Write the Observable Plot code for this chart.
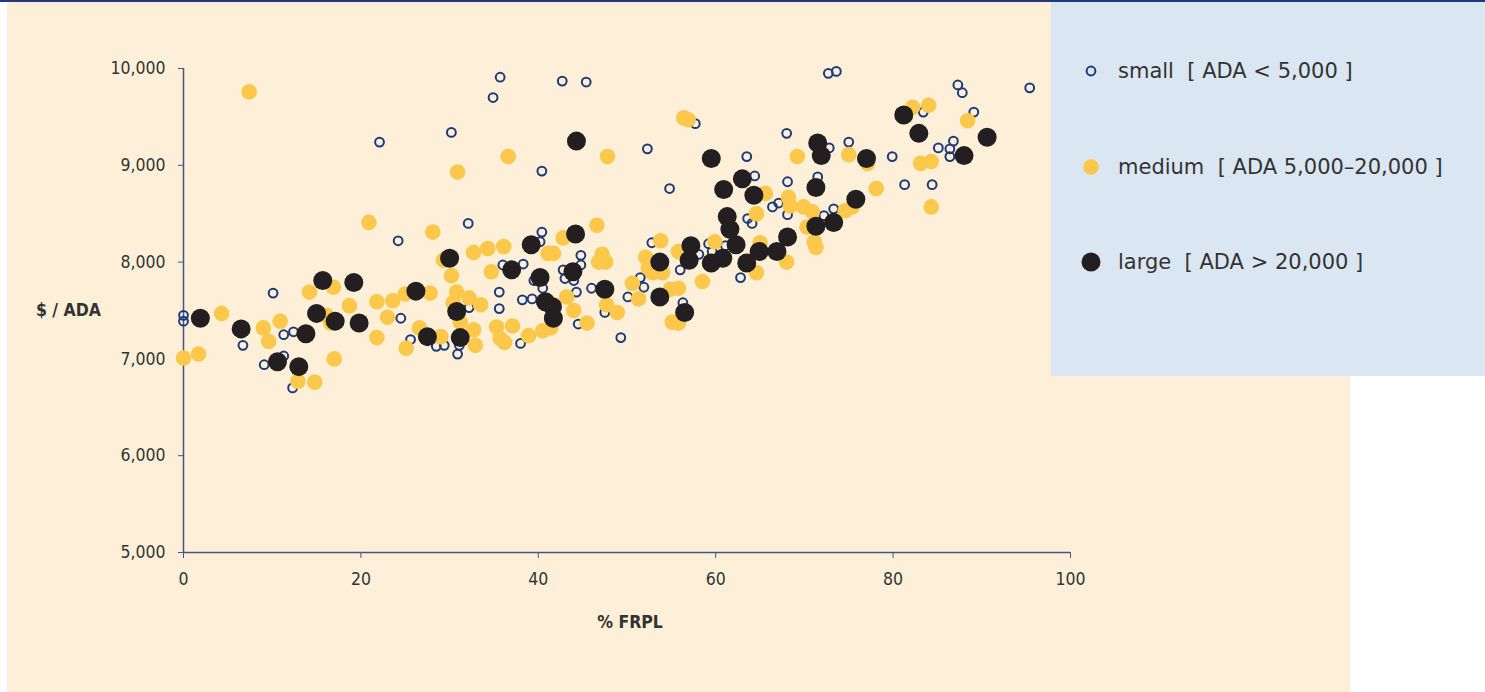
<!DOCTYPE html>
<html><head><meta charset="utf-8">
<script src="https://cdn.jsdelivr.net/npm/d3@7"></script>
<script src="https://cdn.jsdelivr.net/npm/@observablehq/plot@0.6"></script>
<style>
body{margin:0;background:#fff;}
#wrap{position:relative;width:1485px;height:692px;overflow:hidden;font-family:"DejaVu Sans Condensed","DejaVu Sans",sans-serif;font-stretch:condensed;color:#333;}
#topline{position:absolute;left:0;top:0;width:1485px;height:2px;background:#1f3a7a;}
#cream{position:absolute;left:7px;top:2px;width:1343px;height:690px;background:#FEF0D8;}
#blue{position:absolute;left:1051px;top:2px;width:434px;height:374px;background:#DAE6F1;}
#chart{position:absolute;left:0;top:0;}
.leg{position:absolute;left:1080px;height:26px;display:flex;align-items:center;font-family:"DejaVu Sans",sans-serif;font-stretch:normal;font-size:21px;white-space:pre;color:#333;}
.leg svg{margin-right:16px;}
.atitle{position:absolute;font-weight:bold;font-size:17.5px;color:#333;white-space:pre;line-height:20px;}
</style></head>
<body>
<div id="wrap">
  <div id="topline"></div>
  <div id="cream"></div>
  <div id="blue"></div>
  <div id="chart"></div>
  <div class="atitle" style="right:1384px;top:300px;">$ / ADA</div>
  <div class="atitle" style="left:530px;width:200px;text-align:center;top:612px;">% FRPL</div>
  <div id="legend"></div>
</div>
<script>
// % FRPL (x) and $/ADA (y) for each district size group
const small = [[0.0,7450],[0.0,7390],[6.7,7140],[10.1,7680],[11.3,7250],[12.4,7280],[9.1,6940],[11.3,7030],[12.3,6700],[22.1,9240],[30.2,9340],[24.2,8220],[32.1,8400],[35.7,9910],[34.9,9700],[42.7,9870],[45.4,9860],[40.4,8940],[52.3,9170],[54.8,8760],[57.7,9430],[40.4,8310],[40.2,8210],[36.0,7970],[38.3,7980],[35.6,7690],[35.6,7520],[38.2,7610],[39.3,7620],[39.5,7810],[40.5,7730],[42.8,7920],[43.0,7830],[44.0,7810],[44.8,8070],[44.8,7970],[44.3,7690],[46.0,7730],[47.5,7480],[44.5,7360],[38.0,7160],[49.3,7220],[50.1,7640],[51.5,7840],[51.9,7740],[52.8,8200],[56.0,7920],[56.3,7580],[24.5,7420],[25.6,7200],[28.5,7130],[29.4,7140],[30.9,7050],[31.1,7140],[32.2,7530],[58.1,8080],[59.2,8190],[59.6,8110],[61.1,8170],[62.8,7840],[72.7,9950],[73.6,9970],[87.3,9830],[87.8,9750],[95.4,9800],[89.1,9550],[83.4,9550],[68.0,9330],[63.5,9090],[72.8,9180],[75.0,9240],[79.9,9090],[85.1,9180],[86.8,9250],[86.4,9170],[86.4,9090],[81.3,8800],[84.4,8800],[64.4,8890],[68.1,8830],[71.5,8880],[66.4,8570],[67.1,8610],[68.1,8490],[72.2,8480],[73.3,8550],[63.6,8450],[64.1,8400]];
const medium = [[0.0,7010],[1.7,7050],[4.3,7470],[7.4,9760],[9.0,7320],[9.6,7180],[10.9,7390],[12.9,6770],[14.8,6760],[14.2,7690],[16.9,7740],[17.0,7000],[16.1,7450],[16.6,7370],[18.7,7550],[20.9,8410],[21.8,7590],[21.8,7220],[23.0,7430],[23.6,7600],[25.0,7670],[25.1,7110],[26.6,7320],[27.8,7680],[28.1,8310],[29.0,7230],[29.3,8020],[30.2,7860],[30.9,8930],[30.8,7690],[30.4,7580],[31.2,7380],[32.2,7630],[32.7,8100],[33.5,7560],[32.7,7300],[32.9,7140],[34.3,8140],[34.7,7900],[35.3,7330],[35.7,7210],[36.1,8160],[36.6,9090],[37.1,7340],[38.9,7240],[40.5,7290],[41.4,7320],[41.1,8090],[41.7,8090],[42.8,8250],[43.2,7640],[44.0,7500],[45.5,7370],[46.6,8380],[47.2,8080],[46.8,8000],[47.6,8000],[47.8,9090],[47.7,7560],[48.9,7480],[50.6,7780],[51.3,7620],[52.1,8050],[52.4,7940],[52.9,7890],[53.8,8220],[54.9,7720],[55.8,7730],[55.1,7380],[55.8,7370],[55.8,8110],[56.4,9490],[56.9,9470],[58.5,7800],[59.9,8210],[64.6,7890],[65.0,8200],[64.6,8500],[65.6,8710],[68.0,8000],[68.2,8670],[68.4,8580],[69.2,9090],[69.9,8570],[70.9,8520],[70.3,8360],[71.1,8210],[71.3,8150],[74.6,8530],[75.4,8570],[75.0,9110],[77.1,9020],[78.1,8760],[82.2,9600],[84.0,9620],[83.1,9020],[84.3,9040],[84.3,8570],[88.4,9460],[36.2,7170],[54.0,7890]];
const large = [[1.9,7420],[6.5,7310],[10.6,6970],[13.0,6920],[13.8,7260],[15.0,7470],[15.7,7810],[17.1,7390],[19.2,7790],[19.8,7370],[26.2,7700],[27.5,7230],[30.0,8040],[30.8,7490],[31.2,7220],[37.0,7920],[39.2,8180],[40.2,7840],[40.8,7590],[41.6,7540],[41.7,7420],[43.9,7900],[44.2,8290],[44.3,9250],[47.5,7720],[53.7,8000],[53.7,7640],[56.5,7480],[57.0,8020],[57.2,8170],[59.5,9070],[59.5,7990],[60.8,8040],[60.9,8750],[61.3,8470],[61.6,8340],[62.3,8180],[63.0,8860],[63.5,7990],[64.3,8690],[64.9,8110],[66.9,8110],[68.1,8260],[71.3,8770],[71.3,8370],[71.5,9230],[71.9,9100],[73.3,8410],[75.8,8650],[77.0,9070],[81.2,9520],[82.9,9330],[88.0,9100],[90.6,9290]];
const xTicks = [0,20,40,60,80,100];
const yTicks = [5000,6000,7000,8000,9000,10000];
const legendLabels = ["small  [ ADA < 5,000 ]","medium  [ ADA 5,000\u201320,000 ]","large  [ ADA > 20,000 ]"];

const NAVY = "#1f3a7a", YELLOW = "#FBC84B", BLACK = "#231F20", AXIS = "#45558a";
const toObj = a => a.map(([x,y]) => ({x,y}));

const chart = Plot.plot({
  width: 1100, height: 692,
  marginLeft: 183, marginRight: 30, marginTop: 68, marginBottom: 140,
  style: {background: "transparent", fontFamily: '"DejaVu Sans Condensed","DejaVu Sans",sans-serif', fontSize: "17.5px", color: "#333", overflow: "visible"},
  x: {domain: [0,100], label: null},
  y: {domain: [5000,10000], label: null},
  marks: [
    Plot.axisX({ticks: xTicks, tickSize: 6, tickPadding: 14, tickFormat: d => String(d), stroke: AXIS, fill: "#333", label: null}),
    Plot.axisY({ticks: yTicks, tickSize: 5, tickPadding: 13, tickFormat: d3.format(","), stroke: AXIS, fill: "#333", label: null}),
    Plot.ruleY([5000], {stroke: AXIS, strokeWidth: 1.5}),
    Plot.ruleX([0], {stroke: AXIS, strokeWidth: 1.5}),
    Plot.dot(toObj(small), {x: "x", y: "y", r: 4.4, stroke: NAVY, strokeWidth: 2, fill: "none"}),
    Plot.dot(toObj(medium), {x: "x", y: "y", r: 7.8, fill: YELLOW, stroke: "none"}),
    Plot.dot(toObj(large), {x: "x", y: "y", r: 9.5, fill: BLACK, stroke: "none"})
  ]
});
document.getElementById("chart").appendChild(chart);

// legend
const legendStyles = [
  {r: 4.4, fill: "none", stroke: NAVY, sw: 2},
  {r: 7.8, fill: YELLOW, stroke: "none", sw: 0},
  {r: 9.5, fill: BLACK, stroke: "none", sw: 0}
];
const legendY = [71, 167, 262];
const leg = document.getElementById("legend");
legendLabels.forEach((t, i) => {
  const s = legendStyles[i];
  const d = document.createElement("div");
  d.className = "leg";
  d.style.top = (legendY[i] - 13) + "px";
  d.innerHTML = `<svg width="22" height="22"><circle cx="11" cy="11" r="${s.r}" fill="${s.fill}" stroke="${s.stroke}" stroke-width="${s.sw}"/></svg><span>${t.replace(/</g,"&lt;").replace(/>/g,"&gt;")}</span>`;
  leg.appendChild(d);
});
</script>
</body></html>
